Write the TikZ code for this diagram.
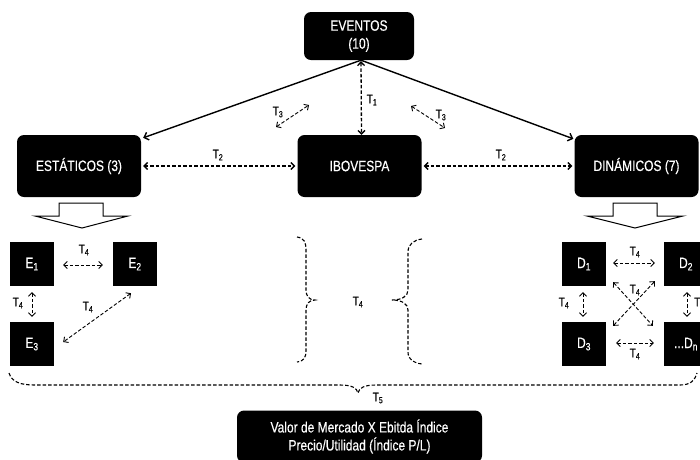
\documentclass[tikz,border=0pt]{standalone}
\usepackage{fontspec}
\setmainfont{Liberation Sans}[FakeStretch=0.8,FakeBold=0.4]
\usetikzlibrary{arrows.meta,calc}
\begin{document}
\begin{tikzpicture}[x=1pt,y=-1pt,
  bigbox/.style={fill=black,text=white,rounded corners=7pt,inner sep=0pt,font=\fontsize{15}{18}\selectfont,align=center},
  sq/.style={fill=black,text=white,minimum width=44pt,minimum height=44pt,inner sep=0pt,font=\fontsize{15}{18}\selectfont},
  lbl/.style={font=\fontsize{12.5}{14}\selectfont,inner sep=0pt},
  solidarr/.style={line width=1.4pt,-{Straight Barb[length=4pt,width=8pt]}},
  darr/.style={dash pattern=on 3.5pt off 2pt, line width=1.3pt,{Straight Barb[length=3.5pt,width=7pt]}-{Straight Barb[length=3.5pt,width=7pt]}},
  tarr/.style={darr,line width=0.9pt},
  brc/.style={dash pattern=on 3.5pt off 2pt, line width=1.1pt},
  hollow/.style={draw=black,line width=1pt,fill=white}
]
\clip (0,0) rectangle (700,459);
% main boxes
\node[bigbox,minimum width=110pt,minimum height=48pt] (ev) at (359,36) {EVENTOS\\(10)};
\node[bigbox,minimum width=124pt,minimum height=62pt] (est) at (79,166) {ESTÁTICOS (3)};
\node[bigbox,minimum width=124pt,minimum height=62pt] (ibo) at (359.5,166) {IBOVESPA};
\node[bigbox,minimum width=124pt,minimum height=62pt] (din) at (636.5,166) {DINÁMICOS (7)};
% arrows from EVENTOS
\draw[solidarr] ($(ev.south)+(2,0)$) -- ($(est.north east)+(2,3)$);
\draw[solidarr] ($(ev.south)+(2,0)$) -- ($(din.north west)+(-1,4)$);
\draw[darr] ($(ev.south)+(2,1)$) -- ($(ibo.north)+(2,0)$);
\node[lbl] (t1) at (372,100) {T\textsubscript{1}};
% T3
\coordinate (t3a) at (276,127);
\coordinate (t3b) at (309,105);
\draw[tarr] (t3a) -- (t3b);
\node[lbl] (t3l) at (278,112) {T\textsubscript{3}};
\coordinate (t3c) at (411,106);
\coordinate (t3d) at (445,128);
\draw[tarr] (t3c) -- (t3d);
\node[lbl] (t3r) at (441,115) {T\textsubscript{3}};
% T2
\draw[darr] ($(est.east)+(2,0)$) -- ($(ibo.west)+(-2,0)$);
\node[lbl] (t2l) at (218,155) {T\textsubscript{2}};
\draw[darr] ($(ibo.east)+(2,0)$) -- ($(din.west)+(-2,0)$);
\node[lbl] (t2r) at (501,155) {T\textsubscript{2}};
% hollow arrows
\draw[hollow] (59,203) -- (103,203) -- (103,216) -- (128,216) -- (82,228) -- (35,216) -- (59,216) -- cycle;
\draw[hollow] (613,203) -- (657,203) -- (657,216) -- (683,216) -- (635,228) -- (587,216) -- (613,216) -- cycle;
% E squares
\node[sq] (e1) at (32,264) {E\textsubscript{1}};
\node[sq] (e2) at (135,264) {E\textsubscript{2}};
\node[sq] (e3) at (32,344) {E\textsubscript{3}};
\draw[tarr] ($(e1.east)+(9,1)$) -- ($(e2.west)+(-10,1)$);
\node[lbl] (t4a) at (84,250) {T\textsubscript{4}};
\draw[tarr] ($(e1.south)+(0,6)$) -- ($(e3.north)+(0,-5)$);
\node[lbl] (t4b) at (18,303) {T\textsubscript{4}};
\draw[tarr] ($(e2.south)+(-4,7)$) -- ($(e3.east)+(9,-2)$);
\node[lbl] (t4c) at (88,307) {T\textsubscript{4}};
% D squares
\node[sq] (d1) at (584,264) {D\textsubscript{1}};
\node[sq] (d2) at (686,264) {D\textsubscript{2}};
\node[sq] (d3) at (584,344) {D\textsubscript{3}};
\node[sq] (dn) at (686,344) {...D\textsubscript{n}};
\draw[tarr] ($(d1.east)+(7,-1)$) -- ($(d2.west)+(-9,-1)$);
\node[lbl] (t4d) at (635,252) {T\textsubscript{4}};
\draw[tarr] ($(d1.south)+(-1,6)$) -- ($(d3.north)+(-1,-5)$);
\node[lbl] (t4e) at (564,303) {T\textsubscript{4}};
\draw[tarr] ($(d2.south)+(1,6)$) -- ($(dn.north)+(1,-5)$);
\node[lbl,anchor=west] (t4f) at (694,303) {T\textsubscript{4}};
\draw[tarr] ($(d1.south east)+(7,-4)$) -- ($(dn.north west)+(-11,4)$);
\draw[tarr] ($(d3.north east)+(7,4)$) -- ($(d2.south west)+(-9,-5)$);
\node[lbl] (t4g) at (635,290) {T\textsubscript{4}};
\draw[tarr] ($(d3.east)+(10,-1)$) -- ($(dn.west)+(-10,-1)$);
\node[lbl] (t4h) at (635,354) {T\textsubscript{4}};
% middle braces
\draw[brc] (297,237) .. controls (304,238) and (306,242) .. (306,250) -- (306,290) .. controls (306,296) and (309,300) .. (315,300) .. controls (309,300) and (306,304) .. (306,310) -- (306,350) .. controls (306,358) and (304,361) .. (297,362);
\draw[brc] (422,239) .. controls (414,240) and (408,244) .. (408,252) -- (408,290) .. controls (408,296) and (402,300) .. (392,300) .. controls (402,300) and (408,304) .. (408,310) -- (408,352) .. controls (408,360) and (414,363) .. (422,364);
\node[lbl] (t4m) at (358,302) {T\textsubscript{4}};
% bottom brace
\draw[brc] (9,373) .. controls (12,382) and (20,385) .. (35,385) -- (340,385) .. controls (352,385) and (357,388) .. (358,393) .. controls (359,388) and (364,385) .. (376,385) -- (680,385) .. controls (691,385) and (695,380) .. (697,373);
\node[lbl] (t5) at (378,398) {T\textsubscript{5}};
% bottom box
\node[bigbox,minimum width=245pt,minimum height=52pt] (val) at (359.5,436.5) {Valor de Mercado X Ebitda Índice\\Precio/Utilidad (Índice P/L)};
\end{tikzpicture}
\end{document}
